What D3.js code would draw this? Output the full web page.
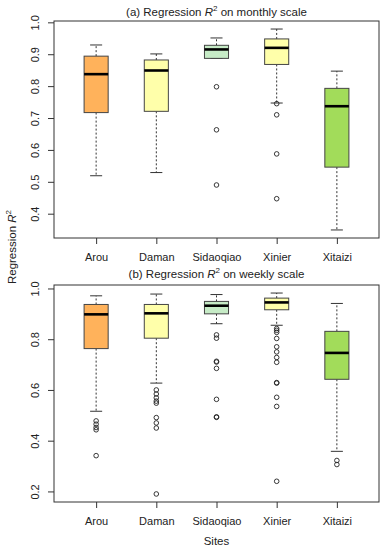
<!DOCTYPE html>
<html>
<head>
<meta charset="utf-8">
<script src="https://cdn.jsdelivr.net/npm/d3@7"></script>
<style>
  body { margin: 0; background: #fff; }
  svg { font-family: "Liberation Sans", Arial, sans-serif; }
  .tick text { font-size: 11px; fill: #222; }
  .tick line { stroke: #333; }
</style>
</head>
<body>
<div id="chart"></div>
<script>
const sites = ['Arou', 'Daman', 'Sidaoqiao', 'Xinier', 'Xitaizi'];
const fills = ['#ffb25b', '#ffffaa', '#c6ebc6', '#ffffaa', '#a2dc5a'];

// (a) monthly scale
const monthlyLow = [0.519, 0.529, 0.887, 0.747, 0.349];
const monthlyQ1 = [0.717, 0.721, 0.887, 0.868, 0.546];
const monthlyMed = [0.8375, 0.849, 0.915, 0.92, 0.737];
const monthlyQ3 = [0.894, 0.882, 0.928, 0.948, 0.793];
const monthlyHigh = [0.929, 0.901, 0.951, 0.979, 0.847];
const monthlyOut = [
  [],
  [],
  [0.798, 0.663, 0.49],
  [0.745, 0.71, 0.5875, 0.447],
  []
];
const monthlyTicks = [0.4, 0.5, 0.6, 0.7, 0.8, 0.9, 1.0];

// (b) weekly scale
const weeklyLow = [0.516, 0.627, 0.861, 0.855, 0.358];
const weeklyQ1 = [0.763, 0.804, 0.9, 0.916, 0.642];
const weeklyMed = [0.898, 0.902, 0.932, 0.945, 0.746];
const weeklyQ3 = [0.937, 0.937, 0.949, 0.962, 0.831];
const weeklyHigh = [0.971, 0.978, 0.976, 0.982, 0.941];
const weeklyOut = [
  [0.478, 0.465, 0.452, 0.443, 0.341],
  [0.6, 0.584, 0.569, 0.556, 0.548, 0.491, 0.47, 0.45, 0.19],
  [0.817, 0.804, 0.713, 0.71, 0.685, 0.563, 0.494, 0.492],
  [0.842, 0.835, 0.827, 0.803, 0.77, 0.75, 0.728, 0.709, 0.629, 0.627, 0.571, 0.535, 0.24],
  [0.322, 0.306]
];
const weeklyTicks = [0.2, 0.4, 0.6, 0.8, 1.0];

const W = 384, H = 550;
const left = 54, right = 379;

const svg = d3.select('#chart').append('svg')
  .attr('width', W).attr('height', H);

// x in box units, padded like R (4%)
const x = d3.scaleLinear().domain([0.3, 5.7]).range([left, right]);
const boxW = x(1.4) - x(1);

function panel(opts) {
  const { top, bottom, low, q1, med, q3, high, out, ticks, label, titleY } = opts;

  // R style 4% padding around the data range
  const all = [].concat(low, high, ...out);
  const lo = d3.min(all), hi = d3.max(all);
  const pad = (hi - lo) * 0.04;
  const y = d3.scaleLinear().domain([lo - pad, hi + pad]).range([bottom, top]);

  const g = svg.append('g');

  // title
  const t = g.append('text')
    .attr('x', (left + right) / 2).attr('y', titleY)
    .attr('text-anchor', 'middle')
    .style('font-size', '11.5px').style('fill', '#222');
  t.append('tspan').text(label + ' Regression ');
  t.append('tspan').style('font-style', 'italic').text('R');
  t.append('tspan').attr('dy', -5).style('font-size', '8px').text('2');
  t.append('tspan').attr('dy', 5).text(' on ' + opts.scaleName + ' scale');

  const idx = d3.range(sites.length);

  // whiskers
  g.selectAll('line.whisk').data(idx.flatMap(i => [[i, q3[i], high[i]], [i, q1[i], low[i]]]))
    .join('line')
    .attr('x1', d => x(d[0] + 1)).attr('x2', d => x(d[0] + 1))
    .attr('y1', d => y(d[1])).attr('y2', d => y(d[2]))
    .attr('stroke', '#333').attr('stroke-dasharray', '2,2');

  g.selectAll('line.cap').data(idx.flatMap(i => [[i, high[i]], [i, low[i]]]))
    .join('line')
    .attr('x1', d => x(d[0] + 1) - boxW / 4).attr('x2', d => x(d[0] + 1) + boxW / 4)
    .attr('y1', d => y(d[1])).attr('y2', d => y(d[1]))
    .attr('stroke', '#333');

  // boxes
  g.selectAll('rect.box').data(idx)
    .join('rect')
    .attr('x', i => x(i + 1) - boxW / 2).attr('width', boxW)
    .attr('y', i => y(q3[i])).attr('height', i => y(q1[i]) - y(q3[i]))
    .attr('fill', i => fills[i]).attr('stroke', '#444');

  g.selectAll('line.med').data(idx)
    .join('line')
    .attr('x1', i => x(i + 1) - boxW / 2).attr('x2', i => x(i + 1) + boxW / 2)
    .attr('y1', i => y(med[i])).attr('y2', i => y(med[i]))
    .attr('stroke', '#000').attr('stroke-width', 2.6);

  // outliers
  g.selectAll('circle').data(idx.flatMap(i => out[i].map(v => [i, v])))
    .join('circle')
    .attr('cx', d => x(d[0] + 1)).attr('cy', d => y(d[1]))
    .attr('r', 2.3).attr('fill', 'none').attr('stroke', '#222').attr('stroke-width', 0.9);

  // frame
  g.append('rect')
    .attr('x', left).attr('y', top).attr('width', right - left).attr('height', bottom - top)
    .attr('fill', 'none').attr('stroke', '#333');

  // y axis
  const ya = g.append('g').attr('transform', `translate(${left},0)`)
    .call(d3.axisLeft(y).tickValues(ticks).tickFormat(d3.format('.1f')).tickSize(6).tickSizeOuter(0));
  ya.select('.domain').remove();
  ya.selectAll('.tick text')
    .attr('x', 0).attr('dy', 0)
    .attr('text-anchor', 'middle')
    .attr('transform', 'translate(-15,0) rotate(-90)');

  // x axis
  const xa = g.append('g').attr('transform', `translate(0,${bottom})`)
    .call(d3.axisBottom(x).tickValues(d3.range(1, sites.length + 1))
      .tickFormat(d => sites[d - 1]).tickSize(6).tickSizeOuter(0));
  xa.select('.domain').remove();
  xa.selectAll('.tick text').attr('y', 15);
}

panel({
  top: 21, bottom: 238, titleY: 16, label: '(a)', scaleName: 'monthly',
  low: monthlyLow, q1: monthlyQ1, med: monthlyMed, q3: monthlyQ3, high: monthlyHigh,
  out: monthlyOut, ticks: monthlyTicks
});

panel({
  top: 285, bottom: 502, titleY: 278, label: '(b)', scaleName: 'weekly',
  low: weeklyLow, q1: weeklyQ1, med: weeklyMed, q3: weeklyQ3, high: weeklyHigh,
  out: weeklyOut, ticks: weeklyTicks
});

// shared axis titles
svg.append('text')
  .attr('x', (left + right) / 2).attr('y', 545)
  .attr('text-anchor', 'middle')
  .style('font-size', '11.5px').style('fill', '#222')
  .text('Sites');

const yl = svg.append('text')
  .attr('transform', 'translate(16,247) rotate(-90)')
  .attr('text-anchor', 'middle')
  .style('font-size', '11.5px').style('fill', '#222');
yl.append('tspan').text('Regression ');
yl.append('tspan').style('font-style', 'italic').text('R');
yl.append('tspan').attr('dy', -5).style('font-size', '8px').text('2');
</script>
</body>
</html>
